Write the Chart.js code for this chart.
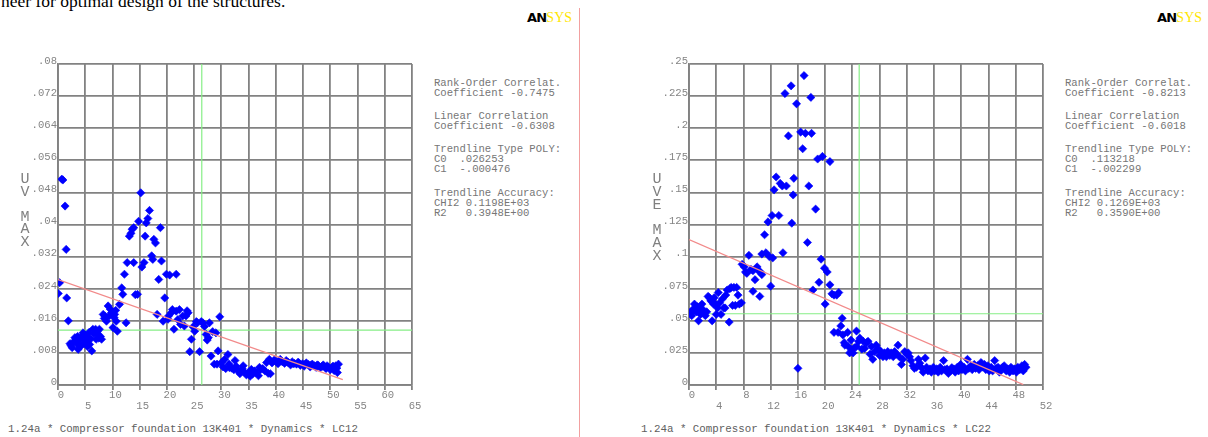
<!DOCTYPE html>
<html>
<head>
<meta charset="utf-8">
<script src="https://cdn.jsdelivr.net/npm/chart.js@4.4.1/dist/chart.umd.min.js"></script>
<style>
  html, body { margin: 0; padding: 0; background: #fff; }
  body { width: 1208px; height: 437px; position: relative; overflow: hidden; font-family: 'Liberation Mono', monospace; }
  canvas { position: absolute; }
  .doc { position: absolute; left: 1px; top: -7px; font: 17.5px/17px 'Liberation Serif', serif; color: #000; white-space: nowrap; }
  .logo { position: absolute; top: 10px; font: 900 13px 'DejaVu Sans', sans-serif; letter-spacing: -0.8px; color: #000; }
  .logo span { color: #ffe600; font-family: 'Liberation Serif', serif; font-weight: normal; font-size: 14px; letter-spacing: 0; }
  .sep { position: absolute; left: 579px; top: 8px; width: 1px; height: 429px; background: #f2a0a0; }
  .vt { position: absolute; width: 14px; text-align: center; font-size: 15px; color: #808080; white-space: pre; }
  .info { position: absolute; top: 67.7px; font-size: 10.6px; line-height: 10px; color: #767676; white-space: pre; }
  .info div { margin-bottom: 13.3px; }
  .cap { position: absolute; top: 423px; font-size: 10.8px; color: #606060; white-space: pre; }
</style>
</head>
<body>
<div class="doc">neer for optimal design of the structures.</div>
<div class="logo" style="left:527px">AN<span>SYS</span></div>
<div class="logo" style="left:1157px">AN<span>SYS</span></div>
<div class="sep"></div>

<canvas id="cLC12" width="424" height="370" style="left:0;top:50px"></canvas>
<canvas id="cLC22" width="425" height="370" style="left:630px;top:50px"></canvas>

<div class="vt" style="left:18px;top:174px;line-height:12.5px">U
V

M
A
X</div>
<div class="vt" style="left:650px;top:174px;line-height:12.8px">U
V
E

M
A
X</div>

<div class="info" style="left:434px">
<div>Rank-Order Correlat.
Coefficient -0.7475</div><div>Linear Correlation
Coefficient -0.6308</div><div>Trendline Type POLY:
C0  .026253
C1  -.000476</div><div>Trendline Accuracy:
CHI2 0.1198E+03
R2   0.3948E+00</div></div>
<div class="info" style="left:1065px">
<div>Rank-Order Correlat.
Coefficient -0.8213</div><div>Linear Correlation
Coefficient -0.6018</div><div>Trendline Type POLY:
C0  .113218
C1  -.002299</div><div>Trendline Accuracy:
CHI2 0.1269E+03
R2   0.3590E+00</div></div>

<div class="cap" style="left:8px">1.24a * Compressor foundation 13K401 * Dynamics * LC12</div>
<div class="cap" style="left:641px">1.24a * Compressor foundation 13K401 * Dynamics * LC22</div>

<script>
// ── Données LC12 (gauche) ─────────────────────────────────────────────────
const lc12X = [0.05, 0.3, 0.7, 0.9, 1.3, 1.5, 1.6, 1.9,
  2.2, 2.4, 2.6, 2.9, 3.1, 3.3, 3.4, 3.6, 3.7, 3.9, 4.0, 4.2, 4.4, 4.6, 4.7, 4.9, 5.0, 5.2, 5.4, 5.5, 5.7, 5.8,
  6.0, 6.2, 6.4, 6.6, 6.9, 7.0, 7.2, 7.3, 7.5, 7.6, 7.8, 8.0, 8.3, 8.5, 8.6, 8.9, 9.2, 9.4, 9.6, 9.8,
  10.1, 10.3, 10.4, 10.6, 10.7, 10.9, 11.3, 11.7, 11.9, 12.2, 12.5, 12.7, 13.1, 13.4, 13.6, 13.9, 13.9, 14.2, 14.6, 14.8,
  15.2, 15.4, 15.8, 16.0, 16.2, 16.5, 16.8, 17.2, 17.4, 17.6, 17.9, 18.2, 18.5, 18.8, 19.0, 19.3, 19.6, 19.9, 20.2, 20.5,
  20.3, 20.8, 21.0, 21.3, 21.7, 21.7, 22.0, 22.3, 22.5, 22.9, 23.2, 23.5, 23.7, 23.9, 24.2, 24.5, 24.8, 25.1, 25.4, 25.6,
  26.0, 26.3, 26.6, 26.9, 27.2, 27.4, 27.6, 27.8, 28.1, 28.4, 28.7, 29.0, 29.2, 29.4, 29.7, 30.0, 30.3, 30.6, 30.8, 31.2,
  31.4, 31.5, 31.9, 32.3, 32.5, 32.7, 33.1, 33.4, 33.8, 34.0, 34.2, 34.6, 35.0, 35.3, 35.5, 35.7, 36.1, 36.4, 36.8, 37.0,
  37.2, 37.6, 38.0, 38.3, 38.6, 38.8, 39.0, 39.3, 39.7, 40.1, 40.4, 40.8, 41.0, 41.2, 41.6, 41.9, 42.1, 42.3, 42.7, 43.0,
  43.2, 43.4, 43.8, 44.1, 44.3, 44.5, 44.9, 45.2, 45.4, 45.6, 46.0, 46.3, 46.5, 46.7, 47.1, 47.4, 47.6, 47.8, 48.2, 48.5,
  48.7, 48.9, 49.2, 49.4, 49.6, 50.0, 50.3, 50.5, 50.7, 51.0, 51.2, 51.3, 51.5];
const lc12Y = [.0228, .0255, .0513, .0511, .0446, .0338, .0217, .016,
  .0103, .0098, .0093, .0108, .0118, .0112, .0105, .0121, .0089, .0097, .0114, .0097, .0122, .013, .0104, .011, .0124, .0105, .0096, .0118, .0131, .0101,
  .0115, .0085, .0139, .0128, .0139, .0114, .0133, .0126, .0117, .0139, .0121, .0114, .0176, .0166, .0172, .0159, .0197, .0172, .0189, .018,
  .0143, .0168, .0176, .0186, .0159, .0134, .0201, .0242, .0226, .0276, .0155, .0305, .0371, .0378, .0388, .0392, .0305, .0225, .0226, .0408,
  .0479, .0294, .0305, .0371, .0404, .0415, .0435, .0322, .0313, .0363, .0354, .0176, .0263, .0392, .0309, .0159, .0217, .0276, .0164, .0274,
  .0172, .018, .0188, .0139, .0276, .0184, .0163, .0188, .0151, .0172, .0147, .0172, .0185, .018, .0083, .0114, .0145, .0134, .0158, .0155,
  .0083, .0158, .0155, .0146, .0126, .0112, .0118, .0155, .0072, .0133, .0052, .013, .0052, .0085, .017, .0056, .0045, .0064, .0041, .0076,
  .0052, .0043, .0042, .0038, .0061, .0047, .0035, .0028, .0041, .0048, .0033, .0025, .0031, .0022, .0039, .0027, .0035, .003, .0023, .0044,
  .0038, .0041, .0035, .0056, .0029, .0064, .0028, .0055, .0062, .0058, .0053, .0064, .006, .0058, .0054, .0061, .0057, .0056, .005, .0058,
  .0053, .0054, .0052, .0057, .0054, .0049, .0053, .0047, .0052, .0055, .0051, .0045, .005, .0052, .0048, .0044, .005, .0049, .0043, .0047,
  .005, .0046, .0041, .0048, .0045, .0038, .0043, .0047, .0036, .0048, .0042, .0031, .0052];

// ── Données LC22 (droite) ─────────────────────────────────────────────────
const lc22X = [0.1, 0.3, 0.4, 0.6, 0.8, 0.9, 1.1, 1.2, 1.4, 1.6, 1.7, 1.9, 2.0, 2.2, 2.4, 2.6, 2.8, 3.0, 3.2, 3.3,
  3.4, 3.6, 3.7, 3.9, 4.0, 4.2, 4.3, 4.5, 4.7, 4.9, 5.1, 5.3, 5.4, 5.6, 5.9, 6.0, 6.2, 6.4, 6.6, 6.8,
  7.0, 7.2, 7.4, 7.7, 7.8, 8.1, 8.3, 8.5, 8.8, 9.1, 9.4, 9.4, 9.7, 10.0, 10.2, 10.4, 10.5, 10.7, 10.7, 11.1,
  11.3, 11.6, 11.8, 12.0, 12.2, 12.3, 12.5, 12.8, 13.2, 13.4, 13.7, 13.8, 14.1, 14.3, 14.6, 15.0, 15.1, 15.3, 15.4, 15.8,
  16.0, 16.4, 16.7, 16.9, 17.1, 17.4, 17.6, 17.9, 18.0, 18.2, 18.6, 18.9, 19.1, 19.4, 19.6, 19.9, 20.0, 20.3, 20.7, 20.7,
  21.0, 21.3, 21.3, 21.7, 21.9, 22.0, 22.3, 22.5, 22.6, 22.8, 22.9, 23.3, 23.4, 23.6, 23.8, 23.9, 24.1, 24.3, 24.6, 24.6,
  24.9, 25.1, 25.4, 25.6, 25.8, 26.1, 26.3, 26.6, 26.8, 27.0, 27.3, 27.5, 27.8, 28.0, 28.2, 28.5, 28.7, 29.0, 29.2, 29.5,
  29.7, 30.0, 30.2, 30.5, 30.7, 30.9, 31.2, 31.4, 31.7, 32.0, 32.2, 32.4, 32.6, 32.9, 33.1, 33.4, 33.7, 33.9, 34.1, 34.4,
  34.7, 34.9, 35.1, 35.4, 35.6, 35.9, 36.1, 36.4, 36.6, 36.9, 37.1, 37.4, 37.6, 37.9, 38.1, 38.4, 38.6, 38.9, 39.1, 39.4,
  39.6, 39.9, 40.1, 40.4, 40.6, 40.9, 41.1, 41.4, 41.6, 41.9, 42.1, 42.4, 42.6, 42.9, 43.1, 43.4, 43.6, 43.9, 44.1, 44.4,
  44.6, 44.9, 45.1, 45.4, 45.6, 45.8, 46.1, 46.3, 46.6, 46.8, 47.1, 47.3, 47.6, 47.8, 48.1, 48.3, 48.6, 48.9, 49.1, 49.3, 49.5];
const lc22Y = [.056, .057, .054, .059, .063, .058, .057, .061, .050, .058, .055, .063, .059, .056, .054, .057, .069, .068, .066, .065,
  .050, .063, .068, .063, .055, .060, .072, .064, .055, .067, .060, .060, .070, .074, .049, .075, .076, .062, .076, .062,
  .076, .070, .063, .064, .094, .092, .088, .087, .101, .090, .089, .073, .082, .092, .089, .069, .088, .086, .102, .117,
  .103, .127, .100, .077, .132, .099, .152, .162, .132, .157, .155, .103, .227, .155, .194, .233, .126, .148, .161, .219,
  .013, .197, .184, .241, .196, .111, .155, .224, .196, .074, .137, .176, .080, .098, .178, .091, .063, .088, .174, .078,
  .071, .070, .041, .070, .041, .072, .046, .052, .039, .033, .031, .041, .030, .025, .035, .027, .025, .029, .042, .030,
  .034, .0365, .028, .034, .0285, .033, .034, .024, .030, .020, .026, .031, .028, .023, .026, .022, .025, .022, .026, .023,
  .025, .022, .026, .024, .031, .022, .016, .020, .026, .024, .025, .022, .019, .015, .013, .0138, .020, .017, .0138, .010,
  .021, .0138, .011, .0125, .010, .0138, .011, .0125, .010, .0138, .011, .019, .012, .0125, .009, .011, .0135, .0125, .010, .0138,
  .011, .016, .012, .0138, .011, .020, .013, .015, .012, .016, .013, .015, .012, .0175, .014, .016, .012, .015, .011, .0138,
  .011, .019, .013, .0138, .010, .0125, .014, .015, .011, .0125, .010, .0138, .011, .0125, .010, .0138, .012, .015, .011, .016, .0138];

// Paramètres des courbes de tendance et moyennes (lignes vertes)
const trend12 = [0.026253, -0.000476, 52.3];   // C0, C1, x final
const trend22 = [0.113218, -0.002299, 49.1];
const mean12 = [26.4, 0.0137];
const mean22 = [25.0, 0.0555];

const GRID = '#828282';
const TXT = '#858585';
Chart.defaults.font = { family: "'Liberation Mono', monospace", size: 10.6, lineHeight: 1.04 };
Chart.defaults.color = TXT;

const fmtY = v => v === 0 ? '0' : String(+v.toFixed(3)).replace(/^0/, '');

function makeChart(id, xs, ys, trend, mean, xMax, xStep, yMax, yStep, yAxisW) {
    const pts = xs.map((x, i) => ({ x, y: ys[i] }));
    const tr = [{ x: 0, y: trend[0] }, { x: trend[2], y: trend[0] + trend[1] * trend[2] }];
    return new Chart(document.getElementById(id), {
        type: 'scatter',
        data: {
            datasets: [
                { data: tr, showLine: true, pointRadius: 0, borderColor: '#f28a8a', borderWidth: 1.3, order: 0 },
                { data: pts, pointStyle: 'rectRot', pointRadius: 4.1, backgroundColor: '#0000ff', borderColor: '#0000ff', borderWidth: 0.6, order: 1 },
                { data: [{ x: mean[0], y: 0 }, { x: mean[0], y: yMax }], showLine: true, pointRadius: 0, borderColor: '#86ee86', borderWidth: 1.2, order: 2 },
                { data: [{ x: 0, y: mean[1] }, { x: xMax, y: mean[1] }], showLine: true, pointRadius: 0, borderColor: '#86ee86', borderWidth: 1.2, order: 2 },
            ],
        },
        options: {
            responsive: false,
            animation: false,
            devicePixelRatio: 1,
            layout: { padding: { top: 14, right: 12, left: 0, bottom: 0 } },
            plugins: { legend: { display: false }, tooltip: { enabled: false } },
            scales: {
                x: {
                    type: 'linear', min: 0, max: xMax,
                    grid: { color: GRID, lineWidth: 1.8, tickLength: 5, drawTicks: true },
                    border: { color: GRID, width: 1.8 },
                    ticks: {
                        stepSize: xStep, padding: 0, labelOffset: 3, maxRotation: 0, autoSkip: false,
                        callback: (v, i) => i % 2 ? ['', String(v)] : String(v),
                    },
                    afterFit: s => { s.height = 35; },
                },
                y: {
                    type: 'linear', min: 0, max: yMax,
                    grid: { color: GRID, lineWidth: 1.8, drawTicks: false },
                    border: { color: GRID, width: 1.8 },
                    ticks: { stepSize: yStep, padding: 1, labelOffset: -3, autoSkip: false, callback: fmtY },
                    afterFit: s => { s.width = yAxisW; },
                },
            },
        },
    });
}

makeChart('cLC12', lc12X, lc12Y, trend12, mean12, 65, 5, 0.08, 0.008, 58);
makeChart('cLC22', lc22X, lc22Y, trend22, mean22, 52, 4, 0.25, 0.025, 59);
</script>
</body>
</html>
